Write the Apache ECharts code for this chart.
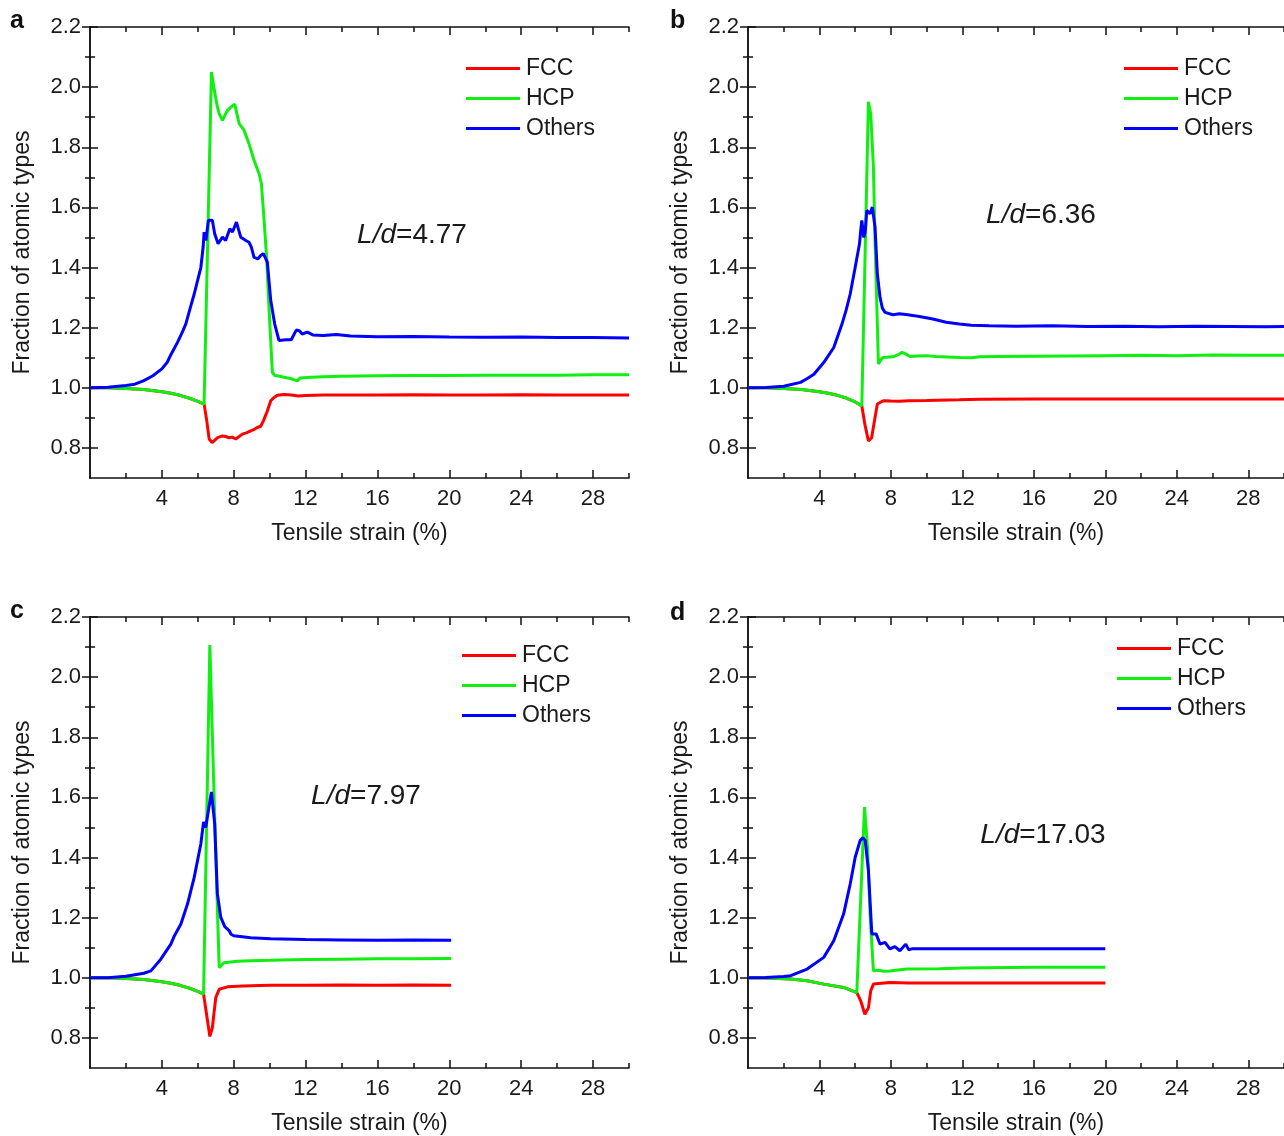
<!DOCTYPE html>
<html>
<head>
<meta charset="utf-8">
<script src="https://cdn.jsdelivr.net/npm/echarts@6/dist/echarts.min.js"></script>
<style>
html,body{margin:0;padding:0;background:#fff;}
#chart{width:1284px;height:1136px;}
</style>
</head>
<body>
<div id="chart"></div>
<script>
// ---- tick values ----
const xMajorTicks = [4, 8, 12, 16, 20, 24, 28];
const xMinorTicks = [2, 6, 10, 14, 18, 22, 26, 30];
const yMajorTicks = [0.8, 1.0, 1.2, 1.4, 1.6, 1.8, 2.0, 2.2];
const yMinorTicks = [0.9, 1.1, 1.3, 1.5, 1.7, 1.9, 2.1];

const seriesNames = ['FCC', 'HCP', 'Others'];
const panelLetters = ['a', 'b', 'c', 'd'];
const panelLd = ['4.77', '6.36', '7.97', '17.03'];

// ---- panel a (L/d = 4.77) ----
const aFCC = [[0,1.0],[1,1.0],[2,0.998],[3,0.994],[4,0.987],[4.5,0.982],[5,0.975],[5.5,0.966],[6,0.955],[6.35,0.946],[6.5,0.89],[6.63,0.83],[6.8,0.818],[6.95,0.826],[7.1,0.834],[7.37,0.84],[7.55,0.838],[7.74,0.834],[7.9,0.836],[8.11,0.83],[8.3,0.838],[8.48,0.846],[8.7,0.85],[8.94,0.857],[9.15,0.862],[9.31,0.868],[9.5,0.872],[9.65,0.89],[9.87,0.923],[10.06,0.957],[10.25,0.968],[10.43,0.975],[10.8,0.978],[11.2,0.976],[11.6,0.973],[12,0.974],[13,0.976],[14,0.976],[16,0.976],[18,0.977],[20,0.976],[22,0.976],[24,0.977],[26,0.976],[28,0.976],[30,0.976]];
const aHCP = [[0,1.0],[1,1.0],[2,0.998],[3,0.994],[4,0.987],[4.5,0.982],[5,0.975],[5.5,0.966],[6,0.955],[6.35,0.946],[6.76,2.05],[6.92,1.99],[7.09,1.934],[7.2,1.91],[7.37,1.89],[7.5,1.905],[7.65,1.923],[7.87,1.935],[8.06,1.943],[8.18,1.91],[8.3,1.879],[8.57,1.857],[8.85,1.812],[9.13,1.757],[9.41,1.712],[9.54,1.679],[9.69,1.557],[9.83,1.434],[9.96,1.268],[10.15,1.051],[10.3,1.04],[10.43,1.04],[10.8,1.035],[11.2,1.03],[11.54,1.023],[11.7,1.033],[12.3,1.035],[13,1.037],[14,1.038],[16,1.04],[18,1.041],[20,1.041],[22,1.042],[24,1.042],[26,1.042],[28,1.043],[30,1.043]];
const aOthers = [[0,1.0],[1,1.002],[2,1.008],[2.5,1.012],[3,1.024],[3.5,1.04],[4,1.063],[4.3,1.085],[4.5,1.11],[4.87,1.151],[5.1,1.18],[5.33,1.212],[5.6,1.27],[5.8,1.312],[6.0,1.36],[6.17,1.40],[6.3,1.47],[6.35,1.518],[6.45,1.49],[6.59,1.557],[6.7,1.562],[6.81,1.557],[6.94,1.512],[7.13,1.479],[7.25,1.49],[7.37,1.501],[7.55,1.49],[7.78,1.529],[7.93,1.518],[8.15,1.551],[8.39,1.501],[8.55,1.495],[8.67,1.49],[8.85,1.484],[8.98,1.468],[9.13,1.434],[9.35,1.429],[9.5,1.44],[9.65,1.446],[9.87,1.418],[10.06,1.29],[10.28,1.212],[10.52,1.157],[10.9,1.16],[11.2,1.16],[11.48,1.192],[11.65,1.19],[11.81,1.179],[12.1,1.185],[12.4,1.176],[13,1.174],[13.7,1.177],[14.5,1.172],[16,1.17],[18,1.171],[20,1.169],[22,1.168],[24,1.169],[26,1.167],[28,1.167],[30,1.166]];

// ---- panel b (L/d = 6.36) ----
const bFCC = [[0,1.0],[1,1.0],[2,0.998],[3,0.994],[4,0.987],[4.5,0.982],[5,0.975],[5.5,0.966],[6,0.953],[6.37,0.94],[6.54,0.879],[6.74,0.823],[6.92,0.834],[7.11,0.901],[7.24,0.946],[7.57,0.957],[8.0,0.956],[8.48,0.955],[9,0.957],[10,0.958],[11.83,0.96],[13,0.962],[16,0.963],[20,0.963],[24,0.963],[28,0.963],[30,0.963]];
const bHCP = [[0,1.0],[1,1.0],[2,0.998],[3,0.994],[4,0.987],[4.5,0.982],[5,0.975],[5.5,0.966],[6,0.953],[6.37,0.94],[6.74,1.951],[6.87,1.91],[7.02,1.734],[7.11,1.49],[7.3,1.079],[7.45,1.095],[7.57,1.101],[8.11,1.103],[8.4,1.11],[8.63,1.118],[8.85,1.112],[9.06,1.104],[9.5,1.106],[9.98,1.107],[10.5,1.104],[11.83,1.101],[12.5,1.1],[13,1.103],[14,1.104],[16,1.105],[18,1.106],[20,1.107],[22,1.108],[24,1.107],[26,1.109],[28,1.108],[30,1.108]];
const bOthers = [[0,1.0],[1,1.001],[2,1.005],[2.94,1.018],[3.3,1.03],[3.69,1.045],[4.24,1.084],[4.8,1.134],[5.26,1.212],[5.5,1.26],[5.72,1.312],[6.0,1.401],[6.24,1.479],[6.32,1.53],[6.37,1.557],[6.48,1.5],[6.56,1.52],[6.65,1.59],[6.83,1.579],[6.96,1.601],[7.11,1.534],[7.24,1.379],[7.39,1.301],[7.52,1.265],[7.67,1.251],[8.11,1.243],[8.48,1.246],[8.94,1.243],[9.3,1.24],[9.59,1.237],[10.35,1.229],[11.09,1.218],[11.83,1.212],[12.5,1.208],[13.5,1.206],[15,1.205],[17,1.206],[19,1.204],[21,1.205],[23,1.203],[25,1.205],[27,1.204],[29,1.203],[30,1.204]];

// ---- panel c (L/d = 7.97) ----
const cFCC = [[0,1.0],[1,1.0],[2,0.998],[3,0.994],[4,0.987],[4.5,0.982],[5,0.975],[5.5,0.966],[6,0.955],[6.32,0.946],[6.54,0.857],[6.67,0.805],[6.81,0.834],[7.0,0.934],[7.19,0.962],[7.65,0.97],[8.5,0.973],[10,0.975],[12,0.975],[14,0.976],[16,0.975],[18,0.976],[20.1,0.975]];
const cHCP = [[0,1.0],[1,1.0],[2,0.998],[3,0.994],[4,0.987],[4.5,0.982],[5,0.975],[5.5,0.966],[6,0.955],[6.32,0.946],[6.67,2.107],[6.94,1.534],[7.19,1.034],[7.3,1.04],[7.46,1.05],[8.2,1.055],[9,1.057],[10.06,1.058],[12,1.061],[14,1.062],[16,1.063],[18,1.063],[20.1,1.064]];
const cOthers = [[0,1.0],[1,1.0],[2,1.005],[3,1.015],[3.39,1.023],[3.94,1.062],[4.5,1.112],[4.7,1.14],[5.06,1.179],[5.43,1.246],[5.8,1.334],[6.17,1.446],[6.32,1.518],[6.44,1.50],[6.6,1.56],[6.76,1.618],[6.94,1.512],[7.09,1.279],[7.28,1.201],[7.5,1.17],[7.74,1.157],[7.85,1.145],[8.0,1.14],[8.94,1.133],[10.06,1.13],[12,1.127],[14,1.126],[16,1.125],[18,1.126],[20.1,1.125]];

// ---- panel d (L/d = 17.03) ----
const dFCC = [[0,1.0],[1,0.999],[2.39,0.996],[3.3,0.99],[4.24,0.979],[5.35,0.968],[6.09,0.951],[6.31,0.923],[6.54,0.879],[6.74,0.90],[6.87,0.957],[7.02,0.979],[7.94,0.984],[9,0.983],[12,0.983],[16,0.983],[20,0.983]];
const dHCP = [[0,1.0],[1,0.999],[2.39,0.996],[3.3,0.99],[4.24,0.979],[5.35,0.968],[6.09,0.951],[6.52,1.568],[6.69,1.434],[6.83,1.212],[7.02,1.023],[7.3,1.025],[7.6,1.022],[7.94,1.023],[8.87,1.029],[10.72,1.03],[12,1.033],[16,1.035],[20,1.035]];
const dOthers = [[0,1.0],[1,1.001],[2,1.004],[2.39,1.007],[3.31,1.029],[4.24,1.068],[4.8,1.123],[5.35,1.212],[5.72,1.312],[6.0,1.401],[6.28,1.457],[6.43,1.466],[6.56,1.457],[6.74,1.357],[6.93,1.146],[7.17,1.146],[7.39,1.112],[7.67,1.118],[7.94,1.096],[8.22,1.104],[8.5,1.09],[8.83,1.112],[9.0,1.093],[9.2,1.097],[12,1.097],[16,1.097],[20,1.097]];

const panelData = [
  [aFCC, aHCP, aOthers],
  [bFCC, bHCP, bOthers],
  [cFCC, cHCP, cOthers],
  [dFCC, dHCP, dOthers]
];

// ---- layout / style ----
const FONT = '"Liberation Sans", Arial, sans-serif';
const colors = ['#FF0000', '#11EE11', '#0000FF'];
const gridPos = [
  {left: 90, top: 27}, {left: 748, top: 27},
  {left: 90, top: 617}, {left: 748, top: 617}
];
const GW = 539, GH = 451;
const legendPos = [
  {left: 466, top: 57}, {left: 1124, top: 57},
  {left: 462, top: 644}, {left: 1117, top: 637}
];
const ldPos = [[412, 235], [1041, 215], [366, 796], [1043, 835]];
const letterPos = [[10, 9], [670, 9], [10, 599], [670, 601]];

const axisLineStyle = {color: '#111', width: 1.5};
const tickStyle = {color: '#111', width: 1.5};

const grids = [], xAxes = [], yAxes = [], series = [], legends = [], graphics = [];

gridPos.forEach((g, i) => {
  grids.push({left: g.left, top: g.top, width: GW, height: GH, containLabel: false});
  const xBase = {gridIndex: i, type: 'value', min: 0, max: 30, splitLine: {show: false}};
  xAxes.push(Object.assign({}, xBase, {
    position: 'bottom',
    axisLine: {show: true, lineStyle: axisLineStyle},
    axisTick: {show: true, inside: true, length: 8, lineStyle: tickStyle, customValues: xMajorTicks},
    axisLabel: {show: true, customValues: xMajorTicks, fontSize: 22, fontFamily: FONT, color: '#1a1a1a', margin: 10},
    name: 'Tensile strain (%)', nameLocation: 'middle', nameGap: 44,
    nameTextStyle: {fontSize: 23, fontFamily: FONT, color: '#1a1a1a'}
  }));
  xAxes.push(Object.assign({}, xBase, {
    position: 'bottom', axisLine: {show: false},
    axisTick: {show: true, inside: true, length: 5, lineStyle: tickStyle, customValues: xMinorTicks},
    axisLabel: {show: false}
  }));
  xAxes.push(Object.assign({}, xBase, {
    position: 'top',
    axisLine: {show: true, lineStyle: axisLineStyle},
    axisTick: {show: true, inside: true, length: 8, lineStyle: tickStyle, customValues: xMajorTicks},
    axisLabel: {show: false}
  }));
  xAxes.push(Object.assign({}, xBase, {
    position: 'top', axisLine: {show: false},
    axisTick: {show: true, inside: true, length: 5, lineStyle: tickStyle, customValues: xMinorTicks},
    axisLabel: {show: false}
  }));

  const yBase = {gridIndex: i, type: 'value', min: 0.7, max: 2.2, splitLine: {show: false}};
  yAxes.push(Object.assign({}, yBase, {
    position: 'left',
    axisLine: {show: true, lineStyle: axisLineStyle},
    axisTick: {show: true, inside: true, length: 8, lineStyle: tickStyle, customValues: yMajorTicks},
    axisLabel: {show: true, customValues: yMajorTicks, formatter: v => v.toFixed(1),
      fontSize: 22, fontFamily: FONT, color: '#1a1a1a', margin: 9},
    name: 'Fraction of atomic types', nameLocation: 'middle', nameGap: 56, nameRotate: 90,
    nameTextStyle: {fontSize: 23, fontFamily: FONT, color: '#1a1a1a'}
  }));
  yAxes.push(Object.assign({}, yBase, {
    position: 'left', axisLine: {show: false},
    axisTick: {show: true, inside: true, length: 5, lineStyle: tickStyle, customValues: yMinorTicks},
    axisLabel: {show: false}
  }));
  yAxes.push(Object.assign({}, yBase, {
    position: 'right',
    axisLine: {show: true, lineStyle: axisLineStyle},
    axisTick: {show: true, inside: true, length: 8, lineStyle: tickStyle, customValues: yMajorTicks},
    axisLabel: {show: false}
  }));
  yAxes.push(Object.assign({}, yBase, {
    position: 'right', axisLine: {show: false},
    axisTick: {show: true, inside: true, length: 5, lineStyle: tickStyle, customValues: yMinorTicks},
    axisLabel: {show: false}
  }));

  panelData[i].forEach((d, k) => {
    series.push({
      name: seriesNames[k], type: 'line', data: d,
      xAxisIndex: i * 4, yAxisIndex: i * 4,
      symbol: 'none', showSymbol: false, smooth: false,
      lineStyle: {color: colors[k], width: 3}, itemStyle: {color: colors[k]},
      silent: true, animation: false, clip: true, z: 2 + k
    });
  });

  legends.push({
    orient: 'vertical', left: legendPos[i].left, top: legendPos[i].top,
    icon: 'rect', itemWidth: 54, itemHeight: 3, itemGap: 7, padding: 0,
    data: seriesNames, selectedMode: false,
    textStyle: {fontSize: 23, fontFamily: FONT, color: '#1a1a1a', lineHeight: 22, padding: [0, 0, 0, 1]}
  });

  graphics.push({
    type: 'text', x: ldPos[i][0], y: ldPos[i][1], z: 10,
    style: {
      text: '{i|L/d}{n|=' + panelLd[i] + '}',
      align: 'center', verticalAlign: 'middle',
      rich: {
        i: {fontSize: 28, fontStyle: 'italic', fontFamily: FONT, fill: '#1a1a1a'},
        n: {fontSize: 28, fontFamily: FONT, fill: '#1a1a1a'}
      }
    }
  });
  graphics.push({
    type: 'text', left: letterPos[i][0], top: letterPos[i][1], z: 10,
    style: {text: panelLetters[i], fontSize: 25, fontWeight: 'bold', fontFamily: FONT, fill: '#111'}
  });
});

const chart = echarts.init(document.getElementById('chart'), null, {renderer: 'canvas'});
chart.setOption({
  backgroundColor: '#ffffff',
  animation: false,
  grid: grids,
  xAxis: xAxes,
  yAxis: yAxes,
  legend: legends,
  series: series,
  graphic: graphics
});
</script>
</body>
</html>
